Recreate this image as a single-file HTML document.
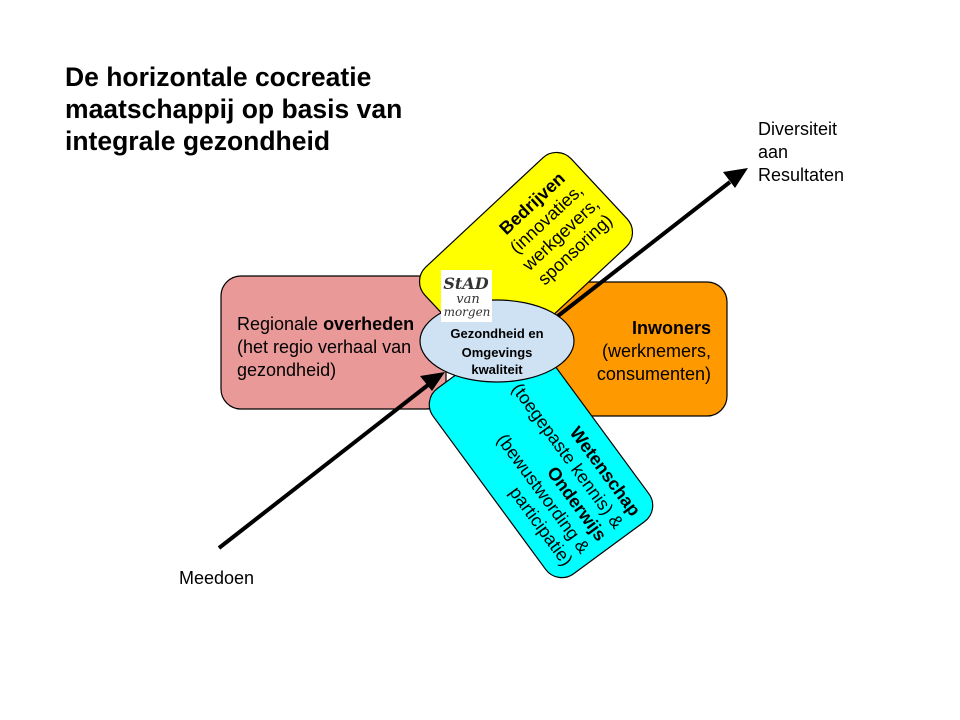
<!DOCTYPE html>
<html><head><meta charset="utf-8"><style>
html,body{margin:0;padding:0;background:#fff;}
svg{display:block;font-family:"Liberation Sans",Arial,sans-serif;}
</style></head><body>
<svg width="960" height="720" viewBox="0 0 960 720" xmlns="http://www.w3.org/2000/svg">
<rect width="960" height="720" fill="#fff"/>
<g font-weight="bold" font-size="26.5" fill="#000">
<text x="65" y="86">De horizontale cocreatie</text>
<text x="65" y="118">maatschappij op basis van</text>
<text x="65" y="150">integrale gezondheid</text>
</g>
<g font-size="18" fill="#000">
<text x="758" y="135">Diversiteit</text>
<text x="758" y="158">aan</text>
<text x="758" y="181">Resultaten</text>
<text x="179" y="584">Meedoen</text>
</g>
<rect x="221" y="276" width="225" height="133" rx="20" fill="#ea9999" stroke="#000" stroke-width="1.2"/>
<g font-size="18" fill="#000">
<text x="237" y="330">Regionale <tspan font-weight="bold">overheden</tspan></text>
<text x="237" y="353">(het regio verhaal van</text>
<text x="237" y="376">gezondheid)</text>
</g>
<rect x="520" y="282" width="207" height="134" rx="20" fill="#ff9900" stroke="#000" stroke-width="1.2"/>
<g font-size="18" fill="#000" text-anchor="end">
<text x="711" y="334" font-weight="bold">Inwoners</text>
<text x="711" y="357">(werknemers,</text>
<text x="711" y="380">consumenten)</text>
</g>
<g transform="translate(526,257) rotate(-43)">
<rect x="-100" y="-61" width="200" height="122" rx="20" fill="#ffff00" stroke="#000" stroke-width="1.2"/>
<g font-size="18" fill="#000" text-anchor="middle">
<text x="41" y="-29" font-weight="bold">Bedrijven</text>
<text x="41" y="-8">(innovaties,</text>
<text x="41" y="13">werkgevers,</text>
<text x="41" y="34">sponsoring)</text>
</g>
</g>
<g transform="translate(541,455) rotate(53.7)">
<rect x="-115" y="-64" width="230" height="128" rx="20" fill="#00ffff" stroke="#000" stroke-width="1.2"/>
<g font-size="18" fill="#000" text-anchor="end">
<text x="104" y="-36" font-weight="bold">Wetenschap</text>
<text x="104" y="-15">(toegepaste kennis) &amp;</text>
<text x="104" y="6" font-weight="bold">Onderwijs</text>
<text x="104" y="27">(bewustwording &amp;</text>
<text x="104" y="48">participatie)</text>
</g>
</g>
<line x1="219" y1="548" x2="428" y2="385" stroke="#000" stroke-width="4"/>
<polygon points="445,372 420,376 432,391" fill="#000"/>
<line x1="540" y1="330" x2="730" y2="182" stroke="#000" stroke-width="4"/>
<polygon points="748,168 723,172 735,188" fill="#000"/>
<ellipse cx="497" cy="341" rx="77" ry="41" fill="#cfe2f3" stroke="#000" stroke-width="1.2"/>
<g font-size="13" font-weight="bold" fill="#000" text-anchor="middle">
<text x="497" y="338">Gezondheid en</text>
<text x="497" y="357">Omgevings</text>
<text x="497" y="374">kwaliteit</text>
</g>
<rect x="441" y="270" width="51" height="52" fill="#fff"/>
<g font-family="'DejaVu Serif',serif" font-style="italic" fill="#333" text-anchor="middle">
<text x="466" y="289" font-size="16" font-weight="bold">StAD</text>
<text x="468" y="303" font-size="13">van</text>
<text x="467" y="316" font-size="12">morgen</text>
</g>
</svg>
</body></html>
